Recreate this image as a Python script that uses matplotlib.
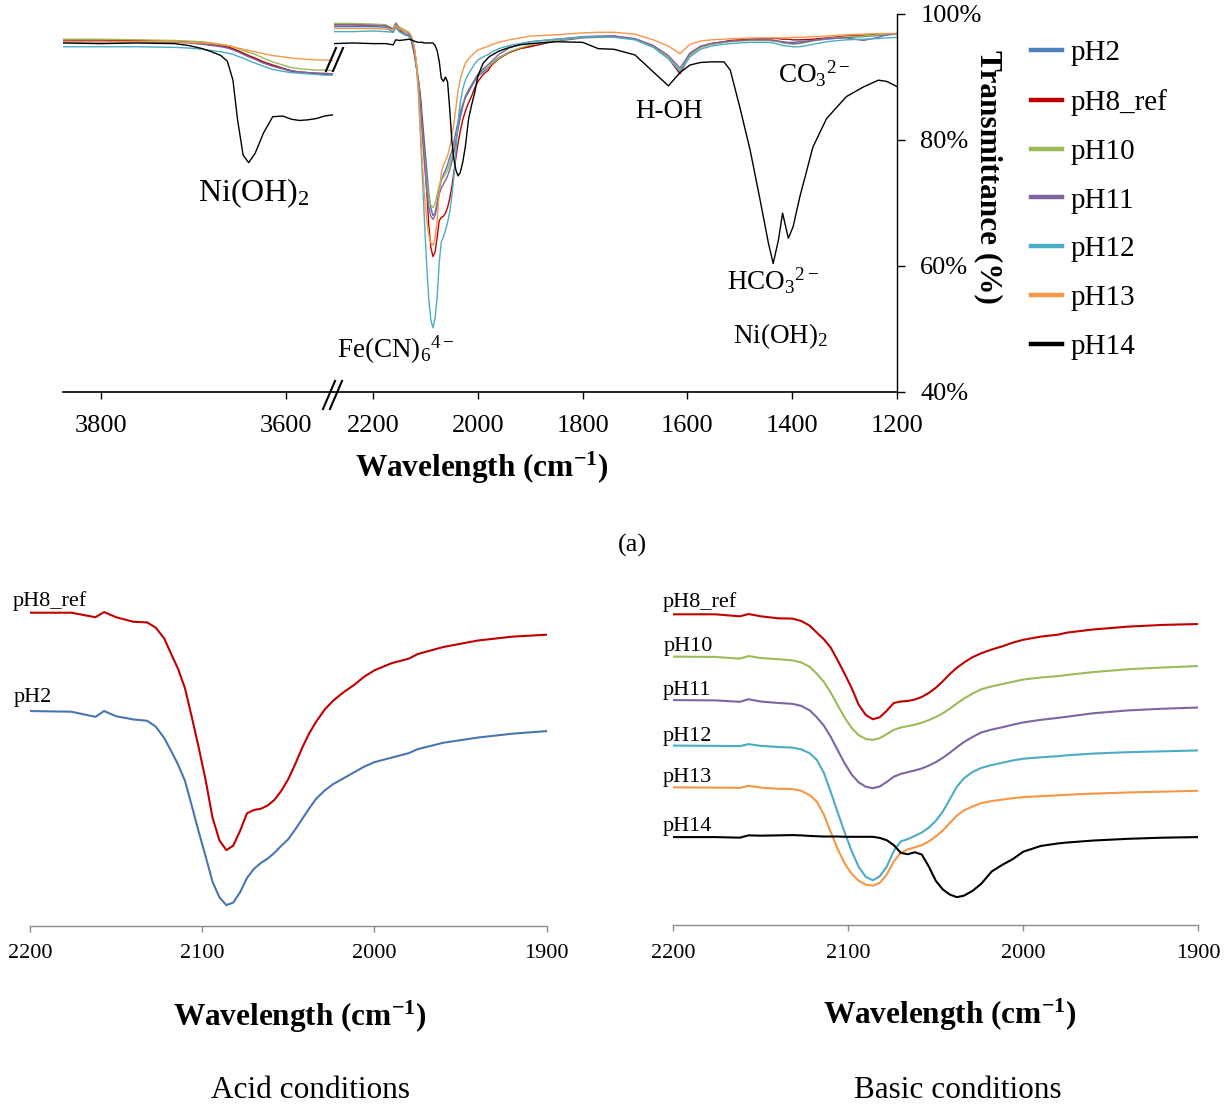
import matplotlib
matplotlib.use("Agg")
import matplotlib.pyplot as plt
from matplotlib.lines import Line2D

plt.rcParams['font.family'] = ['Liberation Serif', 'DejaVu Serif']
plt.rcParams['mathtext.fontset'] = 'custom'
plt.rcParams['mathtext.rm'] = 'Liberation Serif'
plt.rcParams['mathtext.it'] = 'Liberation Serif:italic'
plt.rcParams['mathtext.bf'] = 'Liberation Serif:bold'

# ---------------- data ----------------
LABELS = ['pH2', 'pH8_ref', 'pH10', 'pH11', 'pH12', 'pH13', 'pH14']
COLORS = ['#4A76B0', '#C00000', '#9BBB59', '#8064A2', '#4BACC6', '#F79646', '#000000']

# wavenumber grid, high-wavenumber segment (cm-1)
WN_L = [3840, 3800, 3760, 3720, 3705, 3690, 3680, 3670, 3663, 3657, 3652, 3646,
        3640, 3633, 3624, 3614, 3603, 3594, 3585, 3576, 3567, 3558, 3549]
# wavenumber grid, low-wavenumber segment (cm-1)
WN_R = [2275, 2240, 2200, 2176, 2162, 2157, 2150, 2140, 2132, 2127,
        2122, 2118, 2114, 2110, 2106, 2102, 2098, 2094, 2090, 2086,
        2082, 2078, 2074, 2070, 2066, 2062, 2058, 2054, 2050, 2046,
        2042, 2038, 2034, 2029, 2024, 2018, 2012, 2006, 2000, 1990,
        1980, 1975, 1960, 1940, 1920, 1900,
        1850, 1800, 1770, 1740, 1700, 1665, 1636, 1614, 1595, 1575,
        1555, 1530, 1518, 1500, 1480, 1461, 1445, 1436, 1426, 1418,
        1407, 1398, 1385, 1360, 1334, 1296, 1264, 1235, 1219, 1200]

# transmittance (%)
pH2_L = [95.7, 95.7, 95.7, 95.6, 95.5, 95.3, 95.1, 94.9, 94.7, 94.4,
         94.1, 93.7, 93.3, 92.9, 92.3, 91.8, 91.3, 90.9, 90.7, 90.6,
         90.5, 90.4, 90.4]
pH8_L = [95.9, 95.9, 95.8, 95.7, 95.6, 95.4, 95.2, 95.0, 94.8, 94.5,
         94.2, 93.8, 93.4, 93.0, 92.4, 91.9, 91.4, 91.0, 90.8, 90.7,
         90.6, 90.5, 90.4]
pH10_L = [96.0, 96.0, 95.9, 95.8, 95.7, 95.6, 95.4, 95.2, 95.0, 94.8,
          94.5, 94.2, 93.9, 93.6, 93.0, 92.4, 91.9, 91.5, 91.3, 91.2,
          91.1, 91.1, 91.0]
pH11_L = [95.6, 95.6, 95.6, 95.5, 95.4, 95.2, 95.0, 94.8, 94.6, 94.3,
          94.0, 93.6, 93.2, 92.8, 92.2, 91.7, 91.3, 91.0, 90.8, 90.7,
          90.6, 90.6, 90.5]
pH12_L = [94.8, 94.8, 94.8, 94.7, 94.6, 94.4, 94.2, 94.0, 93.8, 93.6,
          93.3, 93.0, 92.6, 92.2, 91.7, 91.2, 90.9, 90.7, 90.6, 90.5,
          90.4, 90.3, 90.3]
pH13_L = [95.6, 95.6, 95.6, 95.6, 95.5, 95.4, 95.3, 95.1, 95.0, 94.8,
          94.6, 94.4, 94.2, 94.0, 93.7, 93.4, 93.2, 93.0, 92.9, 92.8,
          92.7, 92.7, 92.6]
pH14_L = [95.4, 95.3, 95.4, 95.3, 95.0, 94.5, 94.0, 93.4, 92.5, 89.5,
          83.2, 77.6, 76.4, 77.9, 81.1, 83.7, 83.8, 83.3, 83.1, 83.2,
          83.4, 83.8, 84.0]

pH2_R = [98.0, 98.0, 98.0, 97.9, 97.1, 98.0, 97.2, 96.7, 96.5, 95.6,
         93.8, 91.8, 89.7, 87.2, 83.3, 79.3, 75.5, 71.6, 69.2, 68.0,
         68.4, 70.0, 72.2, 73.6, 74.5, 75.2, 76.1, 77.2, 78.2, 79.7,
         81.3, 82.9, 84.4, 85.7, 86.7, 87.6, 88.5, 89.4, 90.1, 90.8,
         91.5, 92.1, 93.1, 93.9, 94.5, 94.9,
         95.7, 96.2, 96.3, 96.4, 96.0, 94.8, 93.0, 90.8, 93.5, 94.7,
         95.2, 95.5, 95.7, 95.8, 95.9, 95.9, 95.9, 95.8, 95.7, 95.6,
         95.5, 95.5, 95.6, 95.8, 96.0, 96.3, 96.4, 96.6, 96.7, 96.8]
pH8_R = [98.3, 98.3, 98.2, 98.2, 97.5, 98.3, 97.5, 96.8, 96.7, 95.9,
         94.2, 91.8, 89.5, 86.5, 82.0, 77.3, 72.3, 66.5, 63.0, 61.5,
         62.2, 64.5, 67.2, 67.7, 67.9, 68.4, 69.3, 70.7, 72.5, 74.8,
         77.3, 79.5, 81.3, 83.2, 84.6, 85.9, 87.0, 88.3, 89.3, 90.4,
         91.1, 91.8, 92.9, 93.9, 94.5, 94.8,
         95.8, 96.3, 96.4, 96.5, 96.0, 94.9, 93.0, 90.5, 93.6, 94.8,
         95.3, 95.6, 95.8, 95.9, 96.0, 96.1, 96.1, 96.1, 96.1, 96.0,
         96.0, 95.9, 95.9, 96.0, 96.2, 96.5, 96.6, 96.8, 96.8, 96.9]
pH10_R = [98.5, 98.5, 98.4, 98.3, 97.7, 98.6, 97.9, 97.5, 97.1, 96.4,
          94.8, 92.4, 89.6, 85.8, 81.3, 77.0, 73.4, 70.9, 69.6, 69.3,
          69.9, 71.3, 72.8, 73.6, 74.1, 74.6, 75.3, 76.2, 77.3, 78.6,
          80.2, 82.0, 83.7, 85.5, 87.0, 88.0, 88.8, 89.6, 90.4, 91.1,
          91.6, 92.0, 93.0, 94.0, 94.6, 95.1,
          95.8, 96.3, 96.4, 96.4, 96.0, 94.9, 93.1, 91.0, 93.5, 94.7,
          95.2, 95.5, 95.6, 95.7, 95.8, 95.8, 95.8, 95.7, 95.6, 95.4,
          95.3, 95.2, 95.3, 95.7, 96.1, 96.4, 96.5, 96.7, 96.8, 96.8]
pH11_R = [98.3, 98.3, 98.2, 98.1, 97.6, 98.5, 97.7, 97.2, 96.9, 96.2,
          94.6, 92.2, 89.3, 85.3, 80.6, 76.0, 72.1, 69.4, 67.9, 67.4,
          68.0, 69.6, 71.4, 72.4, 73.0, 73.6, 74.3, 75.3, 76.5, 78.0,
          79.8, 81.7, 83.5, 85.3, 86.9, 87.9, 88.7, 89.6, 90.4, 91.3,
          92.0, 92.4, 93.6, 94.6, 95.2, 95.6,
          96.0, 96.4, 96.5, 96.5, 96.1, 95.0, 93.4, 91.4, 93.8, 94.9,
          95.3, 95.6, 95.7, 95.8, 95.9, 95.9, 95.9, 95.8, 95.7, 95.5,
          95.4, 95.3, 95.4, 95.8, 96.1, 96.2, 95.8, 96.3, 96.7, 96.9]
pH12_R = [97.2, 97.2, 97.3, 97.2, 97.1, 97.8, 97.2, 96.8, 96.6, 96.0,
          94.6, 92.3, 87.8, 81.0, 73.8, 66.8, 60.3, 54.8, 51.4, 50.2,
          51.6, 55.0, 60.5, 63.8, 64.6, 65.7, 66.9, 68.6, 71.0, 74.2,
          78.5, 82.9, 85.8, 88.1, 89.5, 90.5, 91.3, 92.1, 92.7, 93.2,
          93.6, 93.9, 94.5, 95.0, 95.3, 95.6,
          96.0, 96.3, 96.4, 96.3, 95.9, 94.7, 92.9, 90.9, 93.2, 94.4,
          94.9, 95.2, 95.3, 95.4, 95.5, 95.5, 95.5, 95.4, 95.2, 95.0,
          94.9, 94.8, 94.8, 95.2, 95.6, 95.9, 96.0, 96.1, 96.2, 96.3]
pH13_R = [97.7, 97.7, 97.7, 97.6, 97.5, 98.2, 97.6, 97.2, 97.1, 96.5,
          95.0, 92.7, 88.2, 82.0, 76.0, 71.0, 67.4, 65.0, 63.7, 63.3,
          64.3, 67.2, 71.8, 74.8, 76.0, 76.7, 77.5, 78.8, 80.5, 82.6,
          85.2, 87.8, 89.6, 91.0, 92.2, 92.9, 93.4, 93.9, 94.3, 94.6,
          94.9, 95.1, 95.5, 95.9, 96.2, 96.5,
          96.7, 97.0, 97.1, 97.1, 96.8, 95.9, 94.9, 93.7, 95.2, 95.7,
          95.9, 96.0, 96.1, 96.1, 96.2, 96.2, 96.2, 96.2, 96.2, 96.2,
          96.2, 96.3, 96.3, 96.4, 96.5, 96.7, 96.8, 96.9, 96.9, 96.9]
pH14_R = [95.3, 95.4, 95.3, 95.3, 95.1, 95.9, 95.8, 95.9, 96.0, 95.9,
          95.7, 95.6, 95.5, 95.5, 95.5, 95.4, 95.4, 95.4, 95.4, 95.4,
          95.0, 94.2, 92.5, 89.8, 89.3, 90.0, 89.2, 85.0, 80.0, 77.0,
          75.2, 74.3, 74.8, 76.5, 79.0, 83.3, 85.6, 87.6, 90.2, 92.2,
          93.1, 93.4, 94.1, 94.7, 95.1, 95.3,
          95.6, 95.5, 94.5, 94.4, 93.5, 90.8, 88.6, 90.7, 91.9, 92.3,
          92.4, 92.4, 91.1, 85.3, 78.4, 70.5, 63.6, 60.4, 64.1, 68.4,
          64.4, 66.2, 71.0, 78.9, 83.4, 86.9, 88.4, 89.5, 89.3, 88.5]

SERIES_L = [pH2_L, pH8_L, pH10_L, pH11_L, pH12_L, pH13_L, pH14_L]
SERIES_R = [pH2_R, pH8_R, pH10_R, pH11_R, pH12_R, pH13_R, pH14_R]

# vertical stacking offsets for the zoomed panels (in % units)
ACID = ['pH8_ref', 'pH2']
ACID_OFFSET = [0, -15]
BASIC = ['pH8_ref', 'pH10', 'pH11', 'pH12', 'pH13', 'pH14']
BASIC_OFFSET = [0, -15, -30, -45, -60, -75]

# ---------------- layout helpers ----------------
W, H = 1224, 1109
fig = plt.figure(figsize=(W / 100, H / 100), dpi=100)


def rect(x0, y0, x1, y1):
    return [x0 / W, 1 - y1 / H, (x1 - x0) / W, (y1 - y0) / H]


def fx(px):
    return px / W


def fy(py):
    return 1 - py / H


# ---------------- top panel (broken axis) ----------------
ax_l = fig.add_axes(rect(63.3, 14, 333.3, 392))
ax_r = fig.add_axes(rect(334, 14, 896.7, 392))

for lab, col, yl, yr in zip(LABELS, COLORS, SERIES_L, SERIES_R):
    ax_l.plot(WN_L, yl, color=col, lw=1.0)
    ax_r.plot(WN_R, yr, color=col, lw=1.0)

ax_l.set_xlim(3840.4, 3548.5)
ax_r.set_xlim(2275, 1200)
for a in (ax_l, ax_r):
    a.set_ylim(40, 100)
    a.patch.set_alpha(0)
    for s in ('top', 'left', 'right'):
        a.spines[s].set_visible(False)
    a.spines['bottom'].set_linewidth(1.2)
    a.tick_params(axis='x', direction='out', length=5, width=1,
                  labelsize=19, pad=11.5)

ax_l.set_xticks([3800, 3600])
ax_l.set_yticks([])
ax_r.set_xticks([2200, 2000, 1800, 1600, 1400, 1200])
ax_r.spines['right'].set_visible(True)
ax_r.spines['right'].set_linewidth(1.0)
ax_r.yaxis.tick_right()
ax_r.set_yticks([40, 60, 80, 100])
ax_r.set_yticklabels(['40%', '60%', '80%', '100%'])
ax_r.tick_params(axis='y', direction='out', length=6, width=1,
                 labelsize=19, pad=11)

# break marks
for dx in (0, 7):
    fig.add_artist(Line2D([fx(323 + dx), fx(335 + dx)], [fy(409), fy(381)],
                          color='black', lw=1.5))
    fig.add_artist(Line2D([fx(326 + dx), fx(336 + dx)], [fy(71), fy(48)],
                          color='black', lw=1.5))

fig.text(fx(482), fy(468), 'Wavelength (cm$^{\\mathbf{-1}}$)', ha='center',
         va='center', fontsize=22.5, fontweight='bold')
fig.text(fx(988), fy(177), 'Transmittance (%)', ha='center', va='center',
         rotation=270, fontsize=22.5, fontweight='bold')

# annotations
fig.text(fx(254), fy(201), 'Ni(OH)$_2$', ha='center', va='baseline', fontsize=23)
fig.text(fx(337), fy(358), 'Fe(CN)$_6$$^{4-}$', ha='left', va='baseline', fontsize=19.5)
fig.text(fx(669), fy(118), 'H-OH', ha='center', va='baseline', fontsize=19.5)
fig.text(fx(778), fy(83), 'CO$_3$$^{2-}$', ha='left', va='baseline', fontsize=19.5)
fig.text(fx(727), fy(290), 'HCO$_3$$^{2-}$', ha='left', va='baseline', fontsize=19.5)
fig.text(fx(733), fy(343), 'Ni(OH)$_2$', ha='left', va='baseline', fontsize=19.5)
fig.text(fx(632), fy(545), '(a)', ha='center', va='center', fontsize=19)

# legend
LEGEND_COLORS = ['#4F81BD', '#C00000', '#9BBB59', '#8064A2', '#4BACC6', '#F79646', '#000000']
handles = [Line2D([], [], color=c, lw=3.2) for c in LEGEND_COLORS]
ax_r.legend(handles, LABELS, loc='upper left',
            bbox_to_anchor=(fx(1031), fy(40)), bbox_transform=fig.transFigure,
            frameon=False, fontsize=21, handlelength=1.06, handletextpad=0.31,
            labelspacing=0.77, borderpad=0, borderaxespad=0)


# ---------------- bottom panels ----------------
def style_bottom(a):
    a.set_xlim(2200, 1900)
    a.set_xticks([2200, 2100, 2000, 1900])
    a.set_yticks([])
    a.patch.set_alpha(0)
    for s in ('top', 'left', 'right'):
        a.spines[s].set_visible(False)
    a.spines['bottom'].set_color('#8c8c8c')
    a.spines['bottom'].set_linewidth(1.0)
    a.tick_params(axis='x', direction='out', length=4.5, width=1,
                  color='#8c8c8c', labelsize=16, pad=9)


ax_bl = fig.add_axes(rect(30, 590, 546.7, 925.7))
for lab, off in zip(ACID, ACID_OFFSET):
    i = LABELS.index(lab)
    ax_bl.plot(WN_R, [v + off for v in SERIES_R[i]], color=COLORS[i], lw=1.5)
ax_bl.set_ylim(49.82, 101.71)
style_bottom(ax_bl)

ax_br = fig.add_axes(rect(673.3, 590, 1198.3, 925))
for lab, off in zip(BASIC, BASIC_OFFSET):
    i = LABELS.index(lab)
    ax_br.plot(WN_R, [v + off for v in SERIES_R[i]], color=COLORS[i], lw=1.5)
ax_br.set_ylim(-10.44, 106.70)
style_bottom(ax_br)

# curve labels
fig.text(fx(12.5), fy(606), 'pH8_ref', ha='left', va='baseline', fontsize=16)
fig.text(fx(14), fy(702), 'pH2', ha='left', va='baseline', fontsize=16)
for txt, xb, yb in zip(BASIC, [662.5, 664, 662.5, 662.5, 662.5, 662.5],
                       [606.5, 651, 695, 741, 782, 831]):
    fig.text(fx(xb), fy(yb), txt, ha='left', va='baseline', fontsize=16)

fig.text(fx(300), fy(1017), 'Wavelength (cm$^{\\mathbf{-1}}$)', ha='center',
         va='center', fontsize=22.5, fontweight='bold')
fig.text(fx(949.5), fy(1015), 'Wavelength (cm$^{\\mathbf{-1}}$)', ha='center',
         va='center', fontsize=22.5, fontweight='bold')
fig.text(fx(310.5), fy(1090), 'Acid conditions', ha='center', va='center',
         fontsize=22.5)
fig.text(fx(958), fy(1090), 'Basic conditions', ha='center', va='center',
         fontsize=22.5)

fig.savefig('out.png', dpi=100)
